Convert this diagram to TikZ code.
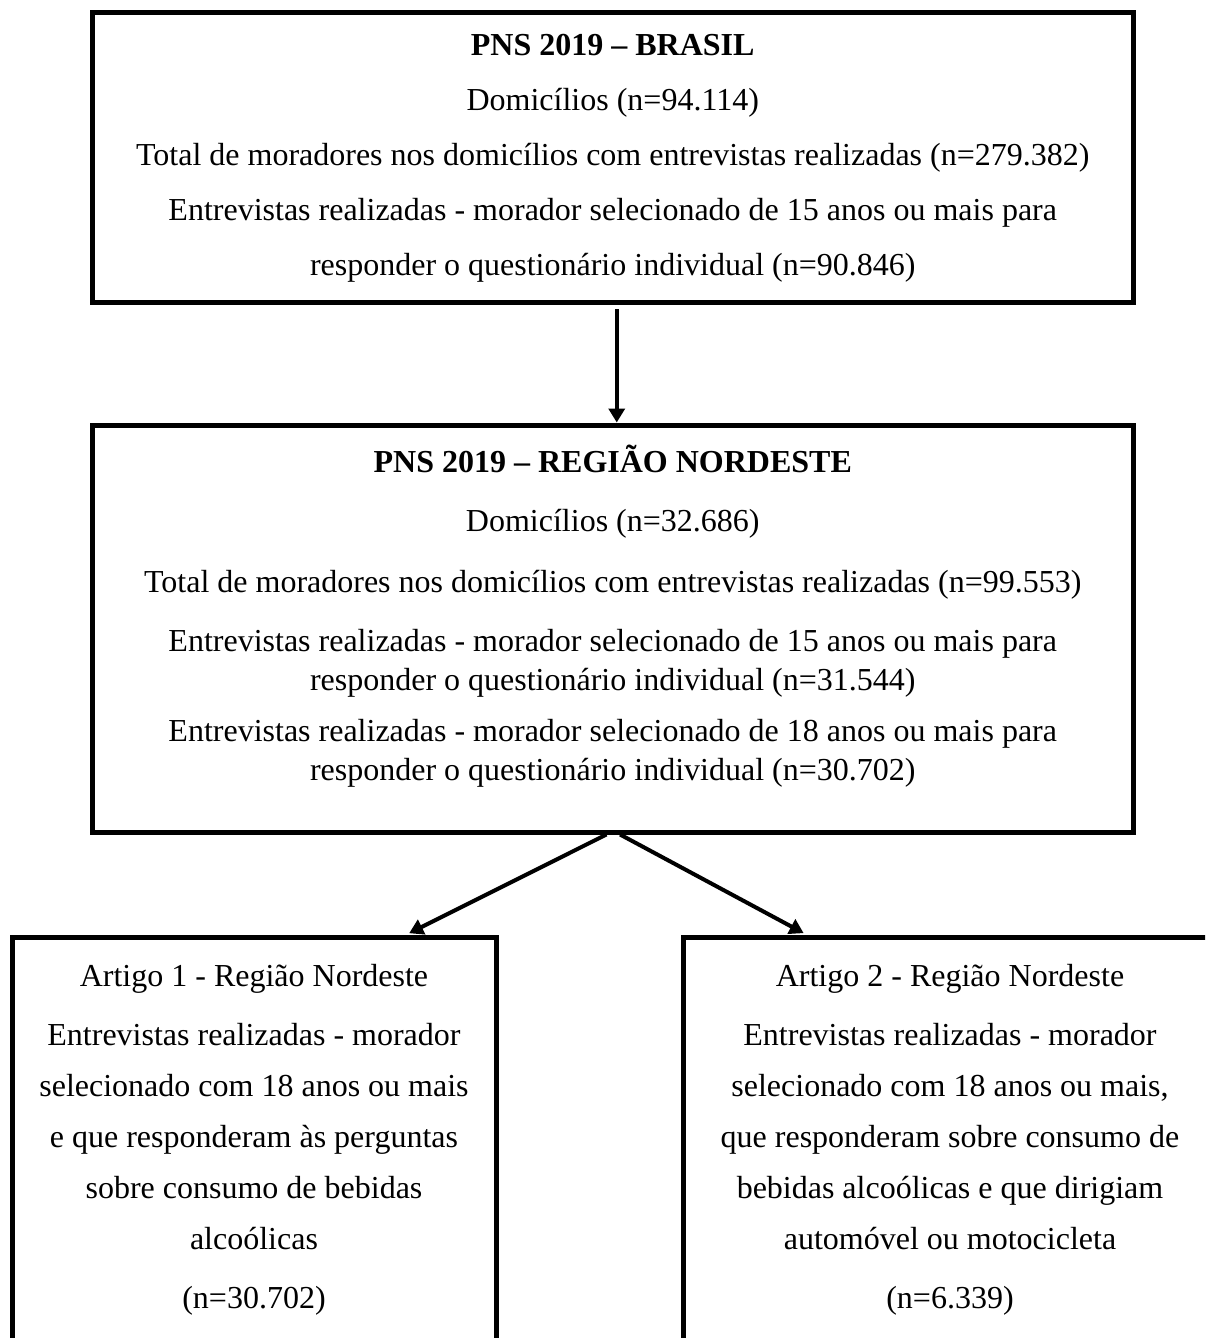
\documentclass[tikz,border=0pt]{standalone}
\usepackage{fontspec}
\setmainfont{Liberation Serif}
\usetikzlibrary{arrows.meta,calc}
\begin{document}
\begin{tikzpicture}[x=.5pt,y=-.5pt,
	frame/.style={draw,line width=2.5pt,inner sep=0pt},
	txt/.style={anchor=north,inner sep=0pt,align=center,font=\fontsize{16}{19.5}\selectfont},
	arr/.style={-{Triangle[width=8pt,length=7pt]},line width=2pt}]
	\clip(0,0)rectangle(1205,1338);
	% caixas
	\node[frame,minimum width=520.25pt,minimum height=145pt](brasil)at(612.75,157.5){};
	\node[frame,minimum width=520.25pt,minimum height=203.5pt](nordeste)at(612.75,628.5){};
	\node[frame,anchor=north,minimum width=242pt,minimum height=235pt](artigo1)at(254,935){};
	\node[frame,anchor=north,minimum width=267pt,minimum height=235pt](artigo2)at(950,935){};
	% textos
	\node[txt,font=\fontsize{16}{27.5}\selectfont](brasilTxt)at($(brasil.north)+(0,24)$){%
		\textbf{PNS 2019 – BRASIL}\\
		Domicílios (n=94.114)\\
		Total de moradores nos domicílios com entrevistas realizadas (n=279.382)\\
		Entrevistas realizadas - morador selecionado de 15 anos ou mais para\\
		responder o questionário individual (n=90.846)};
	\node[txt](nordesteTxt)at($(nordeste.north)+(0,22)$){%
		\textbf{PNS 2019 – REGIÃO NORDESTE}\\[10pt]
		Domicílios (n=32.686)\\[11pt]
		Total de moradores nos domicílios com entrevistas realizadas (n=99.553)\\[10pt]
		Entrevistas realizadas - morador selecionado de 15 anos ou mais para\\
		responder o questionário individual (n=31.544)\\[6pt]
		Entrevistas realizadas - morador selecionado de 18 anos ou mais para\\
		responder o questionário individual (n=30.702)};
	\node[txt,font=\fontsize{16}{25.5}\selectfont](artigo1Txt)at($(artigo1.north)+(0,29)$){%
		Artigo 1 - Região Nordeste\\[4pt]
		Entrevistas realizadas - morador\\
		selecionado com 18 anos ou mais\\
		e que responderam às perguntas\\
		sobre consumo de bebidas\\
		alcoólicas\\[4pt]
		(n=30.702)};
	\node[txt,font=\fontsize{16}{25.5}\selectfont](artigo2Txt)at($(artigo2.north)+(0,29)$){%
		Artigo 2 - Região Nordeste\\[4pt]
		Entrevistas realizadas - morador\\
		selecionado com 18 anos ou mais,\\
		que responderam sobre consumo de\\
		bebidas alcoólicas e que dirigiam\\
		automóvel ou motocicleta\\[4pt]
		(n=6.339)};
	% setas
	\draw[arr,shorten <=2pt]($(brasil.south)+(4,0)$)--($(nordeste.north)+(4,0)$);
	\draw[arr,shorten >=2pt]($(nordeste.south west)!.494!(nordeste.south east)$)--($(artigo1.north west)!.81!(artigo1.north east)$);
	\draw[arr,shorten >=2pt]($(nordeste.south west)!.507!(nordeste.south east)$)--($(artigo2.north west)!.235!(artigo2.north east)$);
\end{tikzpicture}
\end{document}
